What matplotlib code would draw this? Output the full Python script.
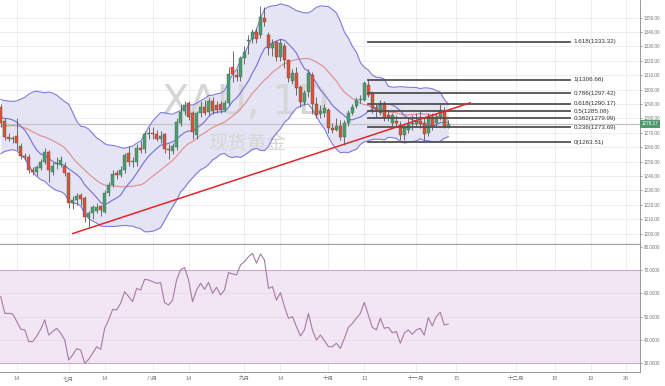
import matplotlib.pyplot as plt
import matplotlib.transforms as mtransforms
import numpy as np
import pandas as pd

plt.rcParams['font.family'] = ['Liberation Sans', 'DejaVu Sans', 'Noto Sans CJK SC']

# daily candles, index 0 = first trading day of July
days = np.arange(-17, 96)

opens = [1287.8, 1278, 1267, 1265.6, 1268, 1261, 1254, 1253.5, 1244, 1242.7,
         1245.5, 1249.7, 1256.6, 1243, 1248, 1247.5, 1247,
         1242, 1221, 1223, 1226.7, 1224.5, 1211.5, 1214, 1216, 1219, 1215,
         1228, 1233.6, 1242, 1241, 1244, 1256, 1250, 1249.7, 1259.5, 1258.7,
         1269, 1269.5, 1269, 1266, 1269, 1258.5, 1257, 1260, 1277, 1285,
         1290.6, 1283.7, 1268.4, 1283.7, 1288, 1284.4, 1292, 1289, 1290, 1286,
         1291, 1315.6, 1310, 1308.7, 1321.9, 1334, 1335, 1340, 1338, 1350,
         1337.8, 1328.8, 1333, 1322.5, 1330, 1320.5, 1306, 1311.5, 1301.7, 1291.3,
         1298, 1310, 1290, 1283, 1284, 1286, 1273, 1272, 1275, 1267,
         1277, 1283.7, 1288.5, 1293, 1293, 1303, 1297.6, 1287, 1284, 1290.6,
         1282, 1277, 1278, 1275.3, 1268.4, 1272, 1276, 1276, 1278, 1277,
         1270, 1281, 1276.7, 1281, 1284.5, 1274]
highs = [1290, 1280, 1270, 1268, 1280, 1263, 1256, 1255, 1246, 1247.5,
         1252, 1259.5, 1258, 1250, 1253, 1254, 1250,
         1243, 1226, 1228, 1228, 1226, 1216, 1220, 1221, 1220, 1230,
         1236, 1244, 1244, 1247, 1256, 1261, 1253, 1262, 1264, 1271,
         1274, 1274, 1272, 1271, 1270, 1262, 1263, 1280, 1290, 1292,
         1292, 1285, 1285, 1292, 1293, 1294, 1295, 1292, 1292, 1293,
         1316, 1327, 1314, 1323, 1330, 1338, 1342, 1343, 1358, 1357,
         1340, 1335, 1334, 1335, 1332, 1321, 1314, 1316, 1303, 1300,
         1314, 1312, 1295, 1289, 1290, 1287, 1277, 1280, 1279, 1279,
         1286, 1290, 1295, 1296, 1306, 1307, 1299, 1290, 1293, 1292,
         1285, 1284, 1282, 1278, 1276, 1280, 1282, 1284, 1285, 1280,
         1284, 1284, 1284, 1290, 1288, 1279]
lows = [1274, 1265, 1264, 1263, 1258, 1252, 1251, 1242, 1241, 1240,
        1244, 1248, 1236, 1241, 1245, 1246, 1240,
        1218, 1217, 1220, 1220, 1208, 1204.5, 1210, 1214, 1212, 1214,
        1226, 1232, 1238, 1239, 1242, 1247, 1246, 1247, 1256, 1256,
        1266, 1266, 1264, 1263, 1256, 1252, 1255, 1258, 1275, 1282,
        1279, 1266, 1266, 1281, 1282, 1282, 1283, 1284, 1284, 1285,
        1289, 1305, 1306, 1306, 1318, 1325, 1332, 1332, 1336, 1344,
        1324, 1323, 1320, 1320, 1315, 1305, 1304, 1296, 1288, 1289,
        1295, 1283, 1280, 1280, 1281, 1270, 1270, 1271, 1265, 1261.5,
        1275, 1282, 1287, 1291, 1292, 1295, 1284, 1281, 1282, 1278,
        1278, 1275, 1274, 1265, 1265, 1270, 1272, 1274, 1273, 1265,
        1268, 1272, 1275, 1279, 1273, 1273]
closes = [1276.7, 1267, 1265.6, 1266.2, 1263, 1254, 1253.5, 1244, 1243, 1246,
          1250, 1256.6, 1244, 1247, 1248.8, 1251, 1242,
          1221, 1223.5, 1226, 1224, 1211.5, 1214, 1218.5, 1218.5, 1216.5, 1228,
          1233.6, 1241.6, 1241, 1244, 1254.5, 1249.6, 1250.3, 1259.4, 1258.3, 1269,
          1269.5, 1269, 1266, 1268, 1258.7, 1258, 1261, 1277.4, 1284.4, 1289,
          1281, 1270.5, 1283.7, 1288, 1284, 1292, 1285, 1285.5, 1286, 1291,
          1311, 1311, 1308.7, 1321.9, 1326, 1334.5, 1340, 1335, 1350.3, 1347,
          1328.8, 1332, 1322.5, 1332, 1320.5, 1308, 1311.5, 1301, 1291.3, 1297.6,
          1311.5, 1290, 1282, 1285, 1287.5, 1273, 1272, 1275, 1267, 1276.7,
          1283.7, 1288, 1292.7, 1293.3, 1304.5, 1296, 1287.2, 1286, 1290.6, 1280.2,
          1280, 1282.5, 1276.7, 1268.4, 1273, 1276, 1276.5, 1278, 1276, 1269,
          1281, 1275, 1281, 1285.8, 1274, 1276.17]
# closes before the visible window, only used to warm up the moving averages
warmup_closes = [1258, 1262, 1263, 1268, 1266, 1271, 1266, 1275, 1272, 1279,
                 1272, 1268, 1275, 1278, 1282, 1281, 1287, 1295, 1290]

rsi = [58.6, 51.4, 51.4, 51.1, 47.9, 44.6, 44.3, 39.3, 39.3, 41.7,
       44.6, 48.6, 42.1, 43.6, 45.0, 42.9, 40.0,
       31.4, 33.6, 36.3, 35.7, 30.0, 31.7, 34.3, 37.1, 36.0, 45.0,
       48.6, 53.1, 52.9, 55.7, 60.7, 58.6, 56.4, 62.1, 61.4, 66.0,
       65.7, 65.0, 64.3, 64.6, 56.0, 55.0, 57.1, 65.7, 70.0, 71.1,
       65.7, 56.4, 61.4, 64.3, 61.7, 64.7, 60.0, 62.6, 59.3, 61.4,
       68.9, 68.3, 67.9, 72.1, 73.6, 75.7, 77.1, 72.9, 76.9, 74.3,
       62.1, 62.9, 57.1, 60.3, 54.3, 49.3, 50.0, 45.7, 41.7, 44.3,
       51.4, 44.3, 40.0, 42.1, 39.7, 37.1, 37.1, 38.6, 36.4, 40.7,
       45.4, 47.1, 49.3, 51.4, 56.1, 50.7, 45.4, 44.3, 49.3, 45.0,
       45.4, 43.1, 43.6, 38.6, 42.9, 44.3, 42.4, 44.3, 45.0, 42.1,
       49.6, 46.0, 50.0, 51.9, 46.4, 46.9]

fib_ratios = ["0", "0.236", "0.382", "0.5", "0.618", "0.786", "1", "1.618"]
fib_prices = [1263.51, 1273.69, 1279.99, 1285.08, 1290.17, 1297.42, 1306.66, 1333.32]
fib_span = [74.8, 125.5]

trend_x = [1, 100.5]
trend_y = [1200, 1290.8]

last_price = 1276.17

tick_pos = [-13, 0, 9, 21, 30, 44, 53, 65, 74, 87, 97, 112, 121.75, 130.75, 139.5]
tick_labels = ["14", "七月", "14", "八月", "14", "九月", "14", "十月", "13",
               "十一月", "15", "十二月", "18", "19", "26"]

# indicators
s = pd.Series(warmup_closes + closes)
n_show = len(closes)
basis = s.rolling(20).mean().values[-n_show:]
dev = s.rolling(20).std(ddof=0).values[-n_show:]
upper = basis + 2 * dev
lower = basis - 2 * dev
ma10 = s.rolling(10).mean().values[-n_show:]

o = np.array(opens); h = np.array(highs); l = np.array(lows); c = np.array(closes)
up = c >= o

fig = plt.figure(figsize=(6.65, 3.86), dpi=100)
ax = fig.add_axes([0, 0.364, 0.9624, 0.636])
ax2 = fig.add_axes([0, 0.035, 0.9624, 0.329], sharex=ax)

grid_c = "#ebebeb"
for a in (ax, ax2):
    for t in tick_pos:
        a.axvline(t, color=grid_c, lw=0.6, zorder=0)

price_ticks = np.arange(1200, 1351, 10)
for p in price_ticks:
    ax.axhline(p, color=grid_c, lw=0.6, zorder=0)

# bollinger
ax.fill_between(days, lower, upper, color="#e4e4f4", zorder=1, lw=0)
ax.plot(days, upper, color="#7c7ce0", lw=0.8, zorder=2)
ax.plot(days, lower, color="#7c7ce0", lw=0.8, zorder=2)
ax.plot(days, basis, color="#e28c8c", lw=0.8, zorder=2)
ax.plot(days, ma10, color="#6f6fdc", lw=0.8, zorder=2)

# watermark
ax.text(0.384, 0.58, "XAU, 1D", transform=ax.transAxes, fontsize=29,
        family="DejaVu Sans", color="#d6d6d6", ha="center", va="center", zorder=1.5)
ax.text(0.386, 0.4175, "现货黄金", transform=ax.transAxes, fontsize=14,
        family=["Noto Sans CJK SC"], color="#d6d6d6", ha="center", va="center",
        zorder=1.5)

# candles
ax.vlines(days, l, h, color="#555555", lw=0.6, zorder=3)
body_h = np.maximum(np.abs(c - o), 0.5)
ax.bar(days[up], body_h[up], bottom=np.minimum(o, c)[up], width=0.68,
       color="#4e9a70", edgecolor="#3c6e52", lw=0.3, zorder=4)
ax.bar(days[~up], body_h[~up], bottom=np.minimum(o, c)[~up], width=0.68,
       color="#d4553f", edgecolor="#8e3a2c", lw=0.3, zorder=4)

# last price line
ax.axhline(last_price, color="#c4c4c4", lw=0.9, zorder=1.8)
trans = mtransforms.blended_transform_factory(ax.transAxes, ax.transData)
ax.text(1.003, last_price, "%.2f" % last_price, transform=trans, fontsize=3.3,
        color="white", va="center", ha="left",
        bbox=dict(boxstyle="square,pad=0.35", fc="#4f9a6e", ec="none"))

# fibonacci
for r, p in zip(fib_ratios, fib_prices):
    ax.plot(fib_span, [p, p], color="#505050", lw=1.3, zorder=5)
    ax.text(fib_span[1] + 0.8, p, "%s(%.2f)" % (r, p), fontsize=4.5,
            color="#333333", va="center", ha="left", zorder=5)

# trend line
ax.plot(trend_x, trend_y, color="#e3262a", lw=1.1, zorder=5)

ax.set_xlim(-17.2, 143)
ax.set_ylim(1191.7, 1362.2)
ax.yaxis.tick_right()
ax.set_yticks(price_ticks)
ax.set_yticklabels(["%.2f" % p for p in price_ticks])
ax.tick_params(axis="y", labelsize=3.3, colors="#777777", length=1.5, width=0.5, pad=1.2)
ax.tick_params(axis="x", bottom=False, labelbottom=False)
for sp in ("top", "left"):
    ax.spines[sp].set_visible(False)
ax.spines["right"].set_color("#888888")
ax.spines["right"].set_linewidth(0.6)
ax.spines["bottom"].set_color("#a0a0a0")
ax.spines["bottom"].set_linewidth(1.6)

# RSI panel
ax2.axhspan(30, 70, color="#f3e6f4", zorder=0.5, lw=0)
for v in (40, 50, 60):
    ax2.axhline(v, color="#e6d8e6", lw=0.6, zorder=0.6)
ax2.axhline(70, color="#c9aac9", lw=0.8, zorder=1)
ax2.axhline(30, color="#c9aac9", lw=0.8, zorder=1)
ax2.plot(days, rsi, color="#a47aa6", lw=0.8, zorder=3)
ax2.set_ylim(26.05, 80.5)
rsi_ticks = np.arange(30, 81, 10)
ax2.yaxis.tick_right()
ax2.set_yticks(rsi_ticks)
ax2.set_yticklabels(["%.4f" % v for v in rsi_ticks])
ax2.tick_params(axis="y", labelsize=3.3, colors="#777777", length=1.5, width=0.5, pad=1.2)
ax2.set_xticks(tick_pos)
ax2.set_xticklabels(tick_labels)
ax2.tick_params(axis="x", labelsize=4.0, colors="#777777", length=0, pad=2.5)
for sp in ("top", "left"):
    ax2.spines[sp].set_visible(False)
ax2.spines["right"].set_color("#888888")
ax2.spines["right"].set_linewidth(0.6)
ax2.spines["bottom"].set_color("#888888")
ax2.spines["bottom"].set_linewidth(0.6)

fig.savefig("out.png", dpi=100)
